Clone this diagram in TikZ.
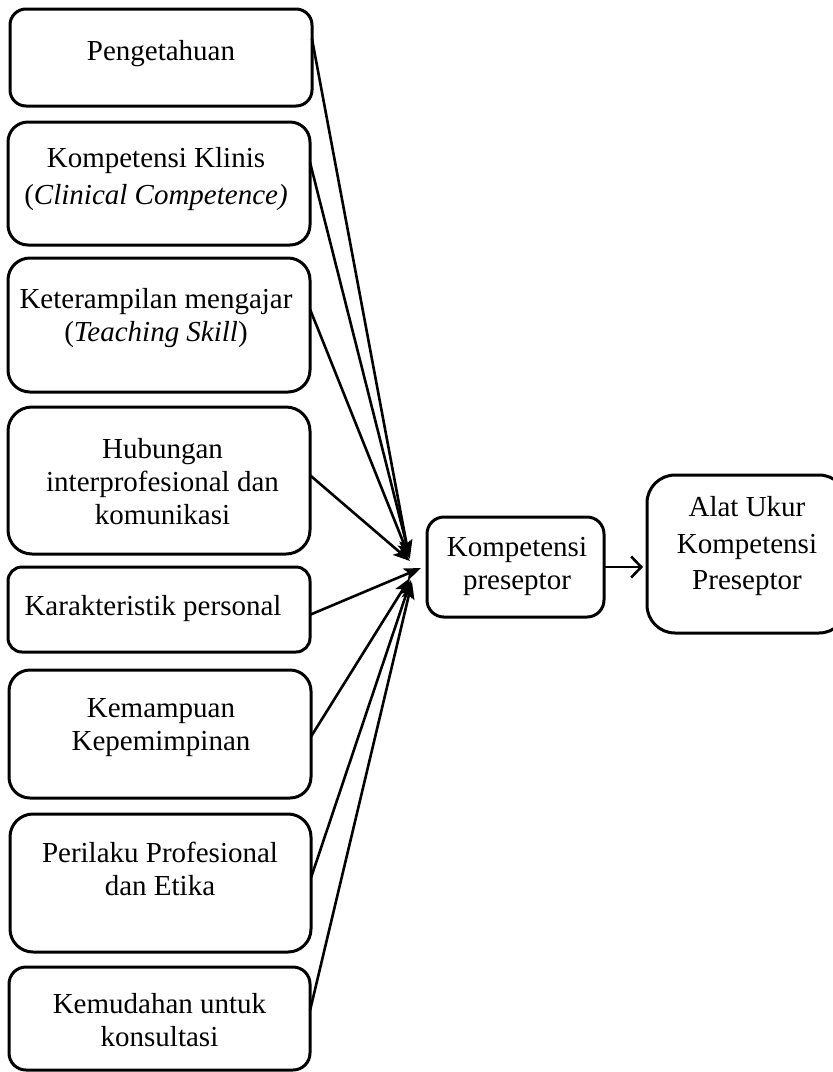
\documentclass[tikz,border=0pt]{standalone}
\usepackage{fontspec}
\setmainfont{Liberation Serif}
\usetikzlibrary{arrows.meta}
\begin{document}
\begin{tikzpicture}[x=1pt,y=-1pt,
  box/.style={draw, line width=3pt, inner sep=0pt, outer sep=0pt},
  txt/.style={align=center, inner sep=0pt, outer sep=0pt, anchor=north,
    font=\fontsize{29}{33}\selectfont, execute at begin node=\strut},
  conn/.style={line width=2.6pt, -{Stealth[length=17pt,width=13pt,inset=4pt]}},
  outarr/.style={line width=2.6pt, -{Straight Barb[length=10pt,width=21pt]}, shorten >=4pt}]
\useasboundingbox (0,0) rectangle (833,1072);
\clip (0,0) rectangle (833,1072);

% input boxes
\node[box, minimum width=302pt, minimum height=97pt, rounded corners=16pt] (b1) at (161,57.5) {};
\node[box, minimum width=302pt, minimum height=123pt, rounded corners=20pt] (b2) at (159,183.5) {};
\node[box, minimum width=302pt, minimum height=134pt, rounded corners=22pt] (b3) at (159,325) {};
\node[box, minimum width=302pt, minimum height=147pt, rounded corners=24pt] (b4) at (159,480.5) {};
\node[box, minimum width=302pt, minimum height=85pt, rounded corners=14pt] (b5) at (159,609.5) {};
\node[box, minimum width=302pt, minimum height=128pt, rounded corners=21pt] (b6) at (160,734) {};
\node[box, minimum width=301pt, minimum height=138pt, rounded corners=23pt] (b7) at (160.5,883) {};
\node[box, minimum width=301pt, minimum height=103pt, rounded corners=17pt] (b8) at (159.5,1018.5) {};

% result boxes
\node[box, minimum width=177pt, minimum height=100pt, rounded corners=17pt] (kp) at (515.5,567) {};
\node[box, minimum width=200pt, minimum height=158pt, rounded corners=28pt] (au) at (747,554) {};

% texts
\node[txt] (t1) at (161,36.9) {Pengetahuan};
\node[txt, font=\fontsize{29}{37}\selectfont] (t2) at (156,147.1) {Kompetensi Klinis\\(\textit{Clinical Competence)}};
\node[txt] (t3) at (156,287.9) {Keterampilan mengajar\\(\textit{Teaching Skill})};
\node[txt] (t4) at (162.5,437.9) {Hubungan\\interprofesional dan\\komunikasi};
\node[txt] (t5) at (153,591.9) {Karakteristik personal};
\node[txt] (t6) at (161,698.4) {Kemampuan\\Kepemimpinan};
\node[txt] (t7) at (160,841.9) {Perilaku Profesional\\dan Etika};
\node[txt] (t8) at (159.5,993.4) {Kemudahan untuk\\konsultasi};
\node[txt] (tk) at (517,537.4) {Kompetensi\\preseptor};
\node[txt, font=\fontsize{29}{36.5}\selectfont] (ta) at (747,496.5) {Alat Ukur\\Kompetensi\\Preseptor};

% connectors
\coordinate (hub) at (412,568);
\draw[conn] (b1.7.36) -- ([shift={(-3,-11)}]hub);
\draw[conn] (b2.8.85) -- ([shift={(-2,-10)}]hub);
\draw[conn] (b3.6.8) -- ([shift={(-2,-9)}]hub);
\draw[conn] (b4.2.1) -- ([shift={(-2,-7)}]hub);
\draw[conn] (b5.-2.8) -- ([shift={(9,0)}]hub);
\draw[conn] (b6.-1.1) -- ([shift={(-2,10)}]hub);
\draw[conn] (b7.2.3) -- ([shift={(-1,12)}]hub);
\draw[conn] (b8.3.2) -- ([shift={(0,14)}]hub);
\draw[outarr] (kp.east) -- (kp.east -| au.west);
\end{tikzpicture}
\end{document}
